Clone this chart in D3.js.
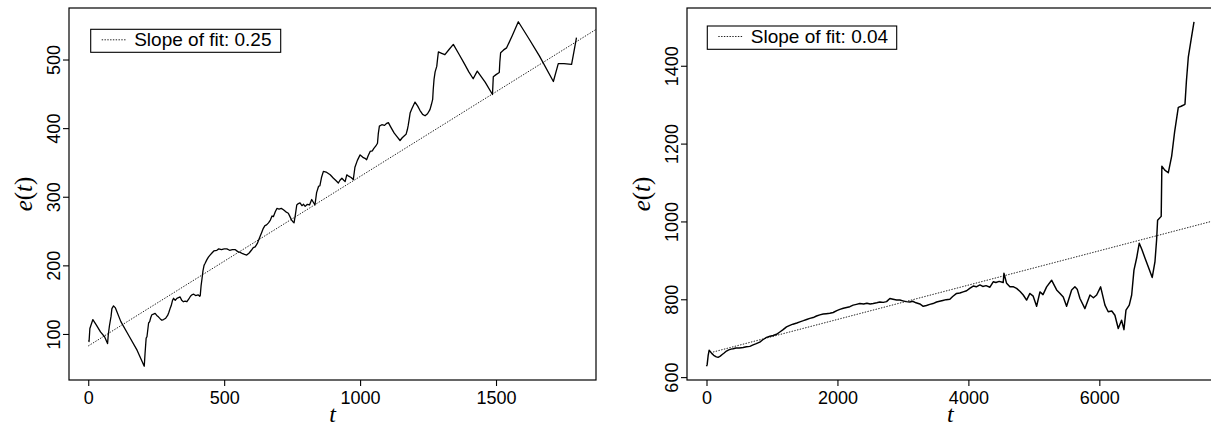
<!DOCTYPE html>
<html>
<head>
<meta charset="utf-8">
<script src="https://cdn.jsdelivr.net/npm/d3@7"></script>
<style>
  html, body { margin: 0; padding: 0; background: #fff; }
  svg { display: block; }
  .tick text { font-family: "Liberation Sans", Arial, sans-serif; }
</style>
</head>
<body>
<svg id="chart" width="1211" height="427"></svg>
<script>
// Series: [t, e(t)] for the two runs
const seriesA = [[1,91],[3,89],[6,108],[17,121],[30,113],[45,103],[60,96],[71,86],[74,100],[78,112],[84,126],[87,137],[93,141],[100,138],[120,118],[150,97],[180,76],[206,53],[209,72],[213,94],[216,96],[222,116],[226,118],[230,124],[234,128],[240,129],[246,130],[252,127],[258,125],[265,122],[271,120],[277,121],[285,123],[292,127],[296,131],[301,137],[305,141],[310,149],[314,152],[320,149],[326,152],[332,153],[338,154],[344,149],[350,147],[356,148],[363,147],[370,151],[376,155],[381,157],[388,158],[395,156],[404,157],[410,155],[412,156],[415,170],[418,179],[422,192],[426,200],[430,203],[436,208],[442,212],[448,215],[455,218],[462,221],[473,222],[480,224],[490,223],[500,224],[510,224],[520,222],[530,223],[540,223],[550,220],[559,219],[568,217],[575,216],[583,215],[592,218],[600,222],[607,226],[614,227],[622,232],[628,238],[632,242],[638,248],[644,254],[650,258],[656,259],[663,262],[670,266],[676,272],[681,271],[688,278],[694,283],[702,282],[710,283],[718,281],[727,278],[736,276],[742,271],[748,266],[752,264],[757,262],[762,274],[767,288],[773,290],[779,291],[786,287],[792,289],[798,286],[806,289],[814,288],[822,296],[828,292],[834,288],[840,306],[847,315],[852,316],[858,328],[865,337],[875,336],[890,332],[902,327],[910,324],[920,320],[926,324],[933,327],[940,324],[945,322],[951,332],[958,330],[967,328],[975,325],[981,343],[990,353],[1000,361],[1006,359],[1012,357],[1018,356],[1024,354],[1030,360],[1037,366],[1045,367],[1050,370],[1058,374],[1064,378],[1067,392],[1071,403],[1080,405],[1090,404],[1098,407],[1104,408],[1115,400],[1125,393],[1135,388],[1147,382],[1155,386],[1163,389],[1169,391],[1174,398],[1177,404],[1181,414],[1184,422],[1190,428],[1196,433],[1202,438],[1212,432],[1220,426],[1230,420],[1239,418],[1248,421],[1257,427],[1262,434],[1267,442],[1269,456],[1272,471],[1276,482],[1282,490],[1285,501],[1288,511],[1300,509],[1312,507],[1328,515],[1343,522],[1365,507],[1385,493],[1400,482],[1416,472],[1431,483],[1460,467],[1487,449],[1490,475],[1500,478],[1512,481],[1514,496],[1517,510],[1528,514],[1539,517],[1560,535],[1582,555],[1620,531],[1660,505],[1711,468],[1729,494],[1750,494],[1778,493],[1786,510],[1796,532]];

const seriesB = [[0,628],[10,632],[25,655],[40,669],[60,665],[80,661],[110,656],[150,652],[177,651],[210,654],[240,658],[270,662],[305,667],[340,670],[375,672],[407,673],[450,675],[500,675],[560,676],[610,678],[662,679],[712,683],[760,686],[814,690],[860,696],[917,702],[970,705],[1018,707],[1070,710],[1120,716],[1170,722],[1222,729],[1273,733],[1320,736],[1380,739],[1426,742],[1480,745],[1530,748],[1578,751],[1629,753],[1680,757],[1731,760],[1782,762],[1830,763],[1884,764],[1935,766],[1990,771],[2037,774],[2090,777],[2140,779],[2190,781],[2240,785],[2290,787],[2342,789],[2400,788],[2450,790],[2500,788],[2546,789],[2600,791],[2648,793],[2700,792],[2750,794],[2801,802],[2850,800],[2903,798],[2954,798],[3000,796],[3050,794],[3106,793],[3150,795],[3200,791],[3259,788],[3310,782],[3360,784],[3410,787],[3460,789],[3514,793],[3560,795],[3610,797],[3660,799],[3717,800],[3760,807],[3820,815],[3870,816],[3920,819],[3973,822],[4020,828],[4074,834],[4120,832],[4176,837],[4220,833],[4270,835],[4329,831],[4379,845],[4420,843],[4470,846],[4532,843],[4543,867],[4584,841],[4634,832],[4690,832],[4736,828],[4790,820],[4838,811],[4889,798],[4940,815],[4990,808],[5042,782],[5093,819],[5140,812],[5195,832],[5271,849],[5348,824],[5400,815],[5449,806],[5500,782],[5577,824],[5627,832],[5662,826],[5704,802],[5780,776],[5857,811],[5910,804],[5959,811],[6020,832],[6086,785],[6136,768],[6190,770],[6238,759],[6289,725],[6340,746],[6376,722],[6407,772],[6457,785],[6494,811],[6529,875],[6570,906],[6610,944],[6650,928],[6697,906],[6750,882],[6808,856],[6850,897],[6875,953],[6890,1003],[6945,1013],[6955,1142],[7000,1132],[7053,1125],[7105,1168],[7150,1230],[7206,1293],[7250,1296],[7308,1301],[7330,1360],[7359,1422],[7400,1465],[7446,1513]];

// Linear fits: e(t) = intercept + slope * t, drawn from t = start
const fitA = { intercept: 82.5, slope: 0.247, start: 0 };
const fitB = { intercept: 660, slope: 0.0441, start: 100 };

// Tick values
const xTicksA = [0, 500, 1000, 1500];
const yTicksA = [100, 200, 300, 400, 500];
const xTicksB = [0, 2000, 4000, 6000];
const yTicksB = [600, 800, 1000, 1200, 1400];

const panels = [
  { id: "a", data: seriesA, fit: fitA, xTicks: xTicksA, yTicks: yTicksA,
    box: { x0: 69, y0: 8, x1: 596, y1: 380 },
    legend: { x: 90.7, y: 29.3, w: 190, h: 23 } },
  { id: "b", data: seriesB, fit: fitB, xTicks: xTicksB, yTicks: yTicksB,
    box: { x0: 687, y0: 8, x1: 1213.5, y1: 380 },
    legend: { x: 707.3, y: 26, w: 189.4, h: 23.3 } }
];

const svg = d3.select("#chart");
const sans = '"Liberation Sans", Arial, Helvetica, sans-serif';
const serif = '"Liberation Serif", "Times New Roman", serif';

// Padded extent, 4% on each side
function padded(vals) {
  const [lo, hi] = d3.extent(vals);
  const p = (hi - lo) * 0.04;
  return [lo - p, hi + p];
}

panels.forEach(p => {
  const b = p.box;
  const x = d3.scaleLinear().domain(padded(p.data.map(d => d[0]))).range([b.x0, b.x1]);
  const y = d3.scaleLinear().domain(padded(p.data.map(d => d[1]))).range([b.y1, b.y0]);

  const g = svg.append("g");

  svg.append("clipPath").attr("id", "clip-" + p.id)
    .append("rect").attr("x", b.x0).attr("y", b.y0)
    .attr("width", b.x1 - b.x0).attr("height", b.y1 - b.y0);

  const plot = g.append("g").attr("clip-path", `url(#clip-${p.id})`);

  // fitted line
  const xEnd = x.domain()[1];
  const f = p.fit;
  plot.append("line")
    .attr("x1", x(f.start)).attr("y1", y(f.intercept + f.slope * f.start))
    .attr("x2", x(xEnd)).attr("y2", y(f.intercept + f.slope * xEnd))
    .attr("stroke", "#222").attr("stroke-width", 1)
    .attr("stroke-dasharray", "1.4,1.4");

  // series
  plot.append("path").datum(p.data)
    .attr("fill", "none").attr("stroke", "#000")
    .attr("stroke-width", p.id === "b" ? 1.45 : 1.3)
    .attr("stroke-linejoin", "round")
    .attr("d", d3.line().x(d => x(d[0])).y(d => y(d[1])));

  // bottom axis
  const ax = g.append("g").attr("transform", `translate(0,${b.y1})`)
    .call(d3.axisBottom(x).tickValues(p.xTicks).tickSize(6).tickPadding(5).tickFormat(d3.format("d")));
  ax.select(".domain").remove();
  ax.selectAll(".tick line").attr("stroke", "#000").attr("stroke-width", 1.1);
  ax.selectAll(".tick text").attr("font-size", 18).attr("fill", "#000");

  // left axis, labels rotated
  const ay = g.append("g").attr("transform", `translate(${b.x0},0)`)
    .call(d3.axisLeft(y).tickValues(p.yTicks).tickSize(6).tickFormat(d3.format("d")));
  ay.select(".domain").remove();
  ay.selectAll(".tick line").attr("stroke", "#000").attr("stroke-width", 1.1);
  ay.selectAll(".tick text")
    .attr("x", null).attr("dy", null)
    .attr("transform", "translate(-9.5,0) rotate(-90)")
    .attr("text-anchor", "middle")
    .attr("font-size", 18).attr("fill", "#000");

  // frame
  g.append("rect").attr("x", b.x0).attr("y", b.y0)
    .attr("width", b.x1 - b.x0).attr("height", b.y1 - b.y0)
    .attr("fill", "none").attr("stroke", "#000").attr("stroke-width", 1.2);

  // axis titles
  const cx = (b.x0 + b.x1) / 2, cy = (b.y0 + b.y1) / 2;
  g.append("text").attr("x", cx).attr("y", 421.5)
    .attr("text-anchor", "middle").attr("font-family", serif)
    .attr("font-style", "italic").attr("font-size", 24).text("t");

  const yl = g.append("text")
    .attr("transform", `translate(${b.x0 - 37},${cy}) rotate(-90)`)
    .attr("text-anchor", "middle").attr("font-family", serif).attr("font-size", 25);
  yl.append("tspan").attr("font-style", "italic").text("e");
  yl.append("tspan").text("(");
  yl.append("tspan").attr("font-style", "italic").text("t");
  yl.append("tspan").text(")");

  // legend
  const L = p.legend;
  g.append("rect").attr("x", L.x).attr("y", L.y).attr("width", L.w).attr("height", L.h)
    .attr("fill", "#fff").attr("stroke", "#000").attr("stroke-width", 1.1);
  g.append("line")
    .attr("x1", L.x + 11).attr("x2", L.x + 36)
    .attr("y1", L.y + 10.5).attr("y2", L.y + 10.5)
    .attr("stroke", "#222").attr("stroke-width", 1).attr("stroke-dasharray", "1.4,1.4");
  g.append("text").attr("x", L.x + 43.5).attr("y", L.y + 16.5)
    .attr("font-family", sans).attr("font-size", 19)
    .text("Slope of fit: " + f.slope.toFixed(2));
});
</script>
</body>
</html>
